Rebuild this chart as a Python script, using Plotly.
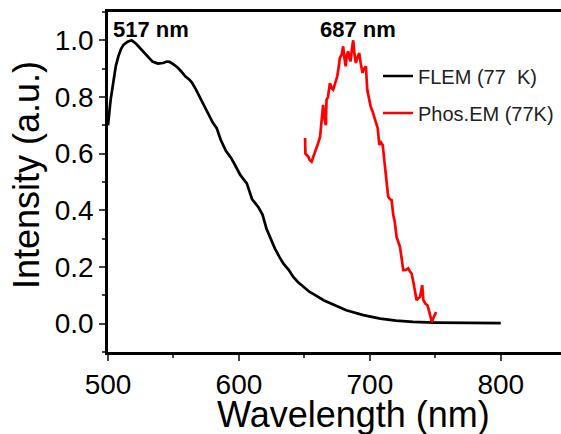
import plotly.graph_objects as go

# FLEM (77 K) emission, black
flem_x = [500, 502, 504, 506, 508, 510, 512, 515, 518, 521, 523, 527, 531, 534, 538, 542, 545, 547,
          550, 553, 556, 559, 562, 564, 567, 570, 573, 576, 580, 583, 586, 590, 594, 597, 601, 606,
          610, 615, 618, 621, 624, 627.5, 631, 634, 638, 641.5, 645, 649, 654, 657, 665, 669.4, 673,
          682, 695, 708, 720, 733, 750, 770, 800]
flem_y = [0.70, 0.79, 0.85, 0.91, 0.945, 0.97, 0.985, 0.995, 1.0, 0.99, 0.98, 0.96, 0.938, 0.925,
          0.918, 0.92, 0.925, 0.924, 0.915, 0.905, 0.89, 0.873, 0.862, 0.852, 0.828, 0.802, 0.775,
          0.745, 0.71, 0.69, 0.65, 0.61, 0.585, 0.56, 0.525, 0.495, 0.44, 0.41, 0.385, 0.336, 0.30,
          0.265, 0.235, 0.212, 0.19, 0.165, 0.147, 0.13, 0.112, 0.104, 0.082, 0.073, 0.065, 0.047,
          0.03, 0.018, 0.011, 0.006, 0.004, 0.003, 0.002]

# Phos.EM (77K) emission, red
phos_x = [650.5, 650.8, 652.9, 654, 655.5, 657, 658, 660.5, 662, 663.1, 664.3, 665.5, 666.4, 666.9,
          668, 669.5, 671, 672, 673.5, 675.1, 676, 677.1, 678.5, 679.6, 680.5, 681.5, 682.5, 683.5,
          684.5, 685.3, 686.3, 687.3, 688.3, 689.3, 690.5, 691.9, 693, 694.4, 695.5, 697, 698, 699,
          700.6, 702, 703.1, 704, 705.2, 706, 707.2, 708.5, 709.8, 711, 711.5, 712.8, 714, 715.3,
          716.6, 717.9, 719, 720.4, 721.5, 723, 724.3, 725.5, 727.5, 729.3, 730.5, 731.9, 733.5,
          735.7, 737, 738.3, 740, 740.9, 742.5, 744, 745.5, 747.3, 749, 750.6]
phos_y = [0.655, 0.60, 0.59, 0.578, 0.572, 0.59, 0.60, 0.637, 0.66, 0.708, 0.772, 0.72, 0.70, 0.79,
          0.80, 0.849, 0.83, 0.826, 0.85, 0.873, 0.90, 0.938, 0.95, 0.979, 0.94, 0.908, 0.95, 0.961,
          0.935, 0.926, 0.97, 1.0, 0.95, 0.92, 0.94, 0.955, 0.92, 0.885, 0.90, 0.908, 0.826, 0.80,
          0.766, 0.75, 0.731, 0.72, 0.696, 0.69, 0.631, 0.64, 0.631, 0.58, 0.554, 0.50, 0.448, 0.44,
          0.436, 0.383, 0.36, 0.306, 0.29, 0.271, 0.23, 0.189, 0.19, 0.195, 0.185, 0.177, 0.14,
          0.083, 0.09, 0.094, 0.136, 0.083, 0.07, 0.065, 0.04, 0.006, 0.025, 0.041]

x_ticks = [500, 600, 700, 800]
y_ticks = [0.0, 0.2, 0.4, 0.6, 0.8, 1.0]
peak_labels = [("517 nm", 502.6), ("687 nm", 660.3)]

FONT = "Liberation Sans, Arial, sans-serif"
W, H = 561, 434
L, R, T, B = 108, 0, 12, 82

fig = go.Figure()
fig.add_trace(go.Scatter(x=flem_x, y=flem_y, mode="lines", name="FLEM (77  K)",
                         line=dict(color="black", width=2.7), legend="legend", showlegend=True))
fig.add_trace(go.Scatter(x=phos_x, y=phos_y, mode="lines", name="Phos.EM (77K)",
                         line=dict(color="#ff0000", width=2.7), legend="legend2", showlegend=True))

for txt, xv in peak_labels:
    fig.add_annotation(x=xv, y=1.04, xref="x", yref="y", text="<b>%s</b>" % txt,
                       showarrow=False, xanchor="left", yanchor="middle",
                       font=dict(family=FONT, size=22, color="black"))

pw = W - L - R
ph = H - T - B
fig.add_annotation(x=(353 - L) / pw, y=(H - B - 392) / ph, xref="paper", yref="paper",
                   text="Wavelength (nm)", showarrow=False, xanchor="center", yanchor="top",
                   font=dict(family=FONT, size=36, color="black"))
fig.add_annotation(x=(26 - L) / pw, y=(H - B - 175) / ph, xref="paper", yref="paper",
                   text="Intensity (a.u.)", showarrow=False, textangle=-90,
                   xanchor="center", yanchor="middle",
                   font=dict(family=FONT, size=36, color="black"))

fig.update_layout(
    width=W, height=H,
    showlegend=True,
    margin=dict(l=L, r=R, t=T, b=B, autoexpand=False),
    paper_bgcolor="white", plot_bgcolor="white",
    font=dict(family=FONT, color="black"),
    legend=dict(x=378 / W, y=1 - 76 / H, xref="container", yref="container",
                xanchor="left", yanchor="middle", bgcolor="rgba(0,0,0,0)",
                font=dict(family=FONT, size=20, color="#222")),
    legend2=dict(x=378 / W, y=1 - 113 / H, xref="container", yref="container",
                 xanchor="left", yanchor="middle", bgcolor="rgba(0,0,0,0)",
                 font=dict(family=FONT, size=20, color="#222")),
    xaxis=dict(range=[500, 846], tickvals=x_ticks, ticks="outside", ticklen=6, tickwidth=2,
               showline=True, linewidth=2.5, linecolor="black", mirror=True,
               showgrid=False, zeroline=False,
               minor=dict(dtick=50, tick0=500, ticks="outside", ticklen=3, tickwidth=2),
               tickfont=dict(family=FONT, size=28, color="black")),
    yaxis=dict(range=[-0.1, 1.1], tickvals=y_ticks, tickformat=".1f", ticks="outside",
               ticklen=6, tickwidth=2, showline=True, linewidth=2.5, linecolor="black",
               mirror=False, showgrid=False, zeroline=False,
               minor=dict(dtick=0.1, tick0=0, ticks="outside", ticklen=3, tickwidth=2),
               tickfont=dict(family=FONT, size=28, color="black")),
)

fig.write_html("out.html", config={"displayModeBar": False},
               post_script="document.body.style.margin='0';document.body.style.overflow='hidden';")
